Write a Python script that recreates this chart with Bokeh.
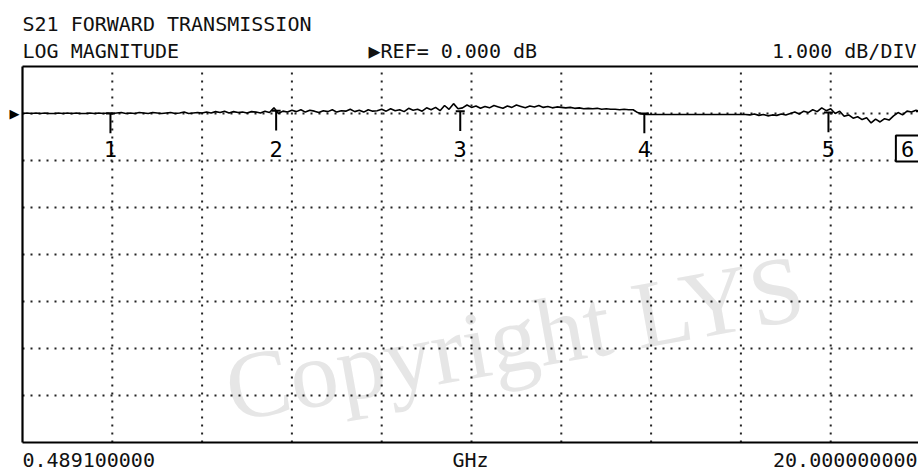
from bokeh.plotting import figure
from bokeh.models import Label, Range1d
from bokeh.embed import file_html
from bokeh.resources import INLINE
import numpy as np

# ---- sweep / scale settings (instrument state) ----
F_START = 0.4891          # GHz
F_STOP = 20.0             # GHz
REF_DB = 0.0
DB_PER_DIV = 1.0
N_XDIV = 10
DIV_ABOVE_REF = 1
DIV_BELOW_REF = 7

trace_db = [
    0.00, 0.01, 0.00, 0.01, 0.00, 0.01, 0.00, 0.00, 0.01, 0.00, 0.01,
    0.00, 0.01, 0.00, 0.00, 0.01, 0.00, 0.01, 0.00, 0.01, 0.00,
    0.01, 0.02, 0.00, 0.01, 0.00, 0.02, 0.01, 0.00, 0.02, 0.01,
    0.00, 0.01, 0.02, 0.00, 0.01, 0.03, 0.00, 0.01, 0.02, 0.01,
    0.03, 0.01, 0.04, 0.02, 0.05, 0.01, 0.04, 0.02, 0.03, 0.01,
    0.04, 0.03, 0.01, 0.05, 0.02, 0.12, 0.00, 0.05, 0.03, 0.07,
    0.04, 0.08, 0.03, 0.07, 0.05, 0.02, 0.06, 0.04, 0.08, 0.03,
    0.06, 0.05, 0.09, 0.04, 0.07, 0.03, 0.08, 0.05, 0.06, 0.09,
    0.05, 0.10, 0.06, 0.08, 0.04, 0.11, 0.07, 0.09, 0.05, 0.12,
    0.08, 0.13, 0.06, 0.17, 0.09, 0.21, 0.10,
    0.12, 0.18, 0.13, 0.16, 0.11, 0.15, 0.12, 0.17, 0.14, 0.11,
    0.16, 0.13, 0.18, 0.15, 0.12, 0.16, 0.14, 0.17, 0.13, 0.15,
    0.12, 0.14, 0.13,
    0.12, 0.13, 0.11, 0.12, 0.10, 0.11, 0.10, 0.11, 0.09, 0.10,
    0.09, 0.09, 0.08, 0.09, 0.08, 0.08,
    0.02, -0.01,
    -0.02, -0.02, -0.02, -0.02, -0.02, -0.02, -0.02, -0.02, -0.02, -0.02, -0.02,
    -0.02, -0.02, -0.02, -0.02, -0.02, -0.02, -0.02, -0.02, -0.02, -0.02, -0.02,
    -0.02, -0.03, -0.01, -0.04, -0.02, -0.05, -0.03, -0.04, -0.01, -0.03,
    0.00, 0.03, -0.01, 0.05, 0.02, 0.08,
    0.04, 0.12, 0.06, 0.10,
    0.00, 0.05, -0.06, -0.03, -0.10, -0.07, -0.13, -0.09, -0.20, -0.12,
    -0.18, -0.11, -0.14,
    -0.05, 0.02, -0.03, 0.05, 0.03, 0.07, 0.04,
]

# ---- markers ----
marker_ids = ["1", "2", "3", "4", "5", "6"]
marker_freq = [2.4, 6.0, 10.0, 14.0, 18.0, 20.0]   # GHz
marker_db = [0.00, 0.06, 0.05, 0.00, 0.02, 0.05]
active_marker = "6"

# ---- texts ----
title_line1 = "S21 FORWARD TRANSMISSION"
title_line2 = "LOG MAGNITUDE"
ref_text = "\u25b6REF= 0.000 dB"
scale_text = "1.000 dB/DIV"
start_text = "0.489100000"
unit_text = "GHz"
stop_text = "20.000000000"
watermark = "Copyright LYS"

freq = np.linspace(F_START, F_STOP, len(trace_db))

# screen geometry: graticule is 898 px x 376 px, starting 22 px from the left
# and 66 px from the top of the page; the window cuts its right edge.
W, H = 918, 470
GRAT_L, GRAT_T, GRAT_W, GRAT_H = 22, 66, 898, 376
px_ghz = (F_STOP - F_START) / GRAT_W
n_ydiv = DIV_ABOVE_REF + DIV_BELOW_REF
px_db = DB_PER_DIV * n_ydiv / GRAT_H
y_top = REF_DB + DIV_ABOVE_REF * DB_PER_DIV
y_bot = REF_DB - DIV_BELOW_REF * DB_PER_DIV
gx = (F_STOP - F_START) / N_XDIV

x0 = F_START - GRAT_L * px_ghz
x1 = F_START + (W - GRAT_L) * px_ghz
y1 = y_top + GRAT_T * px_db
y0 = y_bot - (H - GRAT_T - GRAT_H) * px_db

p = figure(width=W, height=H, output_backend="svg", toolbar_location=None,
           x_range=Range1d(x0, x1), y_range=Range1d(y0, y1),
           x_axis_location=None, y_axis_location=None, min_border=0,
           outline_line_color=None, background_fill_color="white",
           border_fill_color="white")
p.xgrid.visible = False
p.ygrid.visible = False

# watermark
p.add_layout(Label(x=F_START + 204 * px_ghz, y=REF_DB - 276 * px_db, text=watermark,
                   text_font="Liberation Serif", text_font_size="96px",
                   text_color="#e6e6e6", angle=0.177, text_baseline="alphabetic",
                   text_align="left", level="underlay"))

# graticule (dotted)
vx = [F_START + k * gx for k in range(1, N_XDIV)]
p.segment(x0=vx, y0=[y_bot] * len(vx), x1=vx, y1=[y_top] * len(vx),
          line_color="#222222", line_width=2, line_dash="2 6")
hy = [y_top - k * DB_PER_DIV for k in range(1, n_ydiv)]
p.segment(x0=[F_START] * len(hy), y0=hy, x1=[F_STOP] * len(hy), y1=hy,
          line_color="#222222", line_width=2, line_dash="2 6")

# screen border (left, top, bottom)
p.segment(x0=[F_START, F_START, F_START], y0=[y_bot, y_top, y_bot],
          x1=[F_START, F_STOP, F_STOP], y1=[y_top, y_top, y_bot],
          line_color="black", line_width=2.2)

# trace
p.line(freq, trace_db, line_color="black", line_width=1.6)

# markers
p.segment(x0=marker_freq, y0=marker_db, x1=marker_freq,
          y1=[d - 0.42 * DB_PER_DIV for d in marker_db], line_color="black", line_width=2)
p.scatter(marker_freq, marker_db, marker="dash", size=9, line_color="black", line_width=2)

for mid, mf in zip(marker_ids, marker_freq):
    if mid == active_marker:
        p.add_layout(Label(x=mf, y=REF_DB - 35 * px_db, x_offset=-13, text=mid,
                           text_font="DejaVu Sans Mono", text_font_size="22px",
                           text_color="black", text_align="center", text_baseline="middle",
                           border_line_color="black", border_line_width=2,
                           background_fill_color="white", padding=5))
    else:
        p.add_layout(Label(x=mf, y=REF_DB - 35 * px_db, text=mid,
                           text_font="DejaVu Sans Mono", text_font_size="22px",
                           text_color="black", text_align="center", text_baseline="middle"))

# reference pointer
p.add_layout(Label(x=F_START, y=REF_DB, x_offset=-13, text="\u25b6",
                   text_font="DejaVu Sans", text_font_size="13px", text_color="black",
                   text_align="left", text_baseline="middle"))

# header / footer texts
FONT = "DejaVu Sans Mono"
FS = "20px"
def txt(x, y, s, align="left"):
    p.add_layout(Label(x=x, y=y, text=s, text_font=FONT, text_font_size=FS,
                       text_color="#111111", text_align=align, text_baseline="middle"))

txt(F_START, y_top + 43 * px_db, title_line1)
txt(F_START, y_top + 16 * px_db, title_line2)
txt(F_START + 346 * px_ghz, y_top + 16 * px_db, ref_text)
txt(F_START + 894 * px_ghz, y_top + 16 * px_db, scale_text, "right")
txt(F_START, y_bot - 17 * px_db, start_text)
txt(F_START + 448 * px_ghz, y_bot - 17 * px_db, unit_text, "center")
txt(F_START + 895 * px_ghz, y_bot - 17 * px_db, stop_text, "right")

open("out.html", "w").write(file_html(p, INLINE))
